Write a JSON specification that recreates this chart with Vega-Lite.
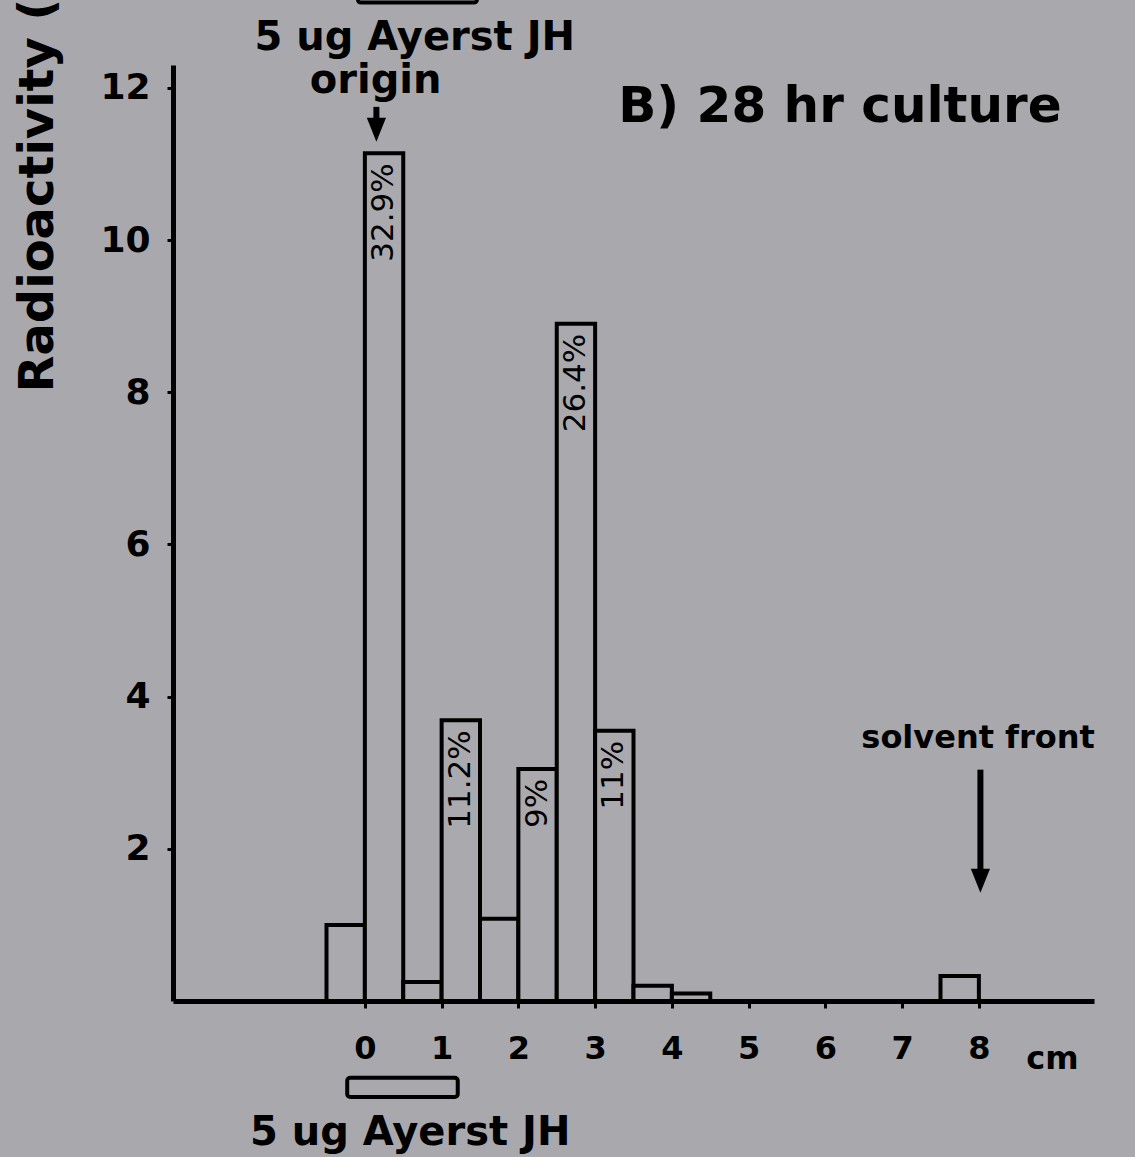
{
  "$schema": "https://vega.github.io/schema/vega-lite/v6.json",
  "width": 921,
  "height": 936,
  "autosize": {"type": "none"},
  "padding": {"left": 173, "top": 65, "right": 41, "bottom": 156},
  "background": "#a9a9ad",
  "config": {
    "view": {"stroke": null},
    "font": "DejaVu Sans",
    "axis": {
      "grid": false,
      "zindex": 1,
      "format": "d",
      "domainColor": "black",
      "domainWidth": 5,
      "tickColor": "black",
      "tickWidth": 3,
      "labelFont": "DejaVu Sans",
      "labelFontWeight": "bold",
      "labelColor": "black",
      "labelFlush": false,
      "labelOverlap": false,
      "titleFont": "DejaVu Sans",
      "titleFontWeight": "bold",
      "titleColor": "black"
    },
    "axisX": {"tickSize": 7, "labelFontSize": 32, "labelPadding": 25, "titleFontSize": 32},
    "axisY": {"tickSize": 6, "labelFontSize": 36, "labelPadding": 17, "titleFontSize": 48}
  },
  "datasets": {
    "fractions": [
      {"lo": -0.5, "hi": 0, "mid": -0.25, "activity": 1.0},
      {"lo": 0, "hi": 0.5, "mid": 0.25, "activity": 11.14, "pct": "32.9%"},
      {"lo": 0.5, "hi": 1, "mid": 0.75, "activity": 0.25},
      {"lo": 1, "hi": 1.5, "mid": 1.25, "activity": 3.69, "pct": "11.2%"},
      {"lo": 1.5, "hi": 2, "mid": 1.75, "activity": 1.08},
      {"lo": 2, "hi": 2.5, "mid": 2.25, "activity": 3.05, "pct": "9%"},
      {"lo": 2.5, "hi": 3, "mid": 2.75, "activity": 8.9, "pct": "26.4%"},
      {"lo": 3, "hi": 3.5, "mid": 3.25, "activity": 3.55, "pct": "11%"},
      {"lo": 3.5, "hi": 4, "mid": 3.75, "activity": 0.2},
      {"lo": 4, "hi": 4.5, "mid": 4.25, "activity": 0.1},
      {"lo": 7.5, "hi": 8, "mid": 7.75, "activity": 0.33}
    ],
    "arrows": [
      {"at": 0.15, "tail": 11.75, "head": 11.45},
      {"at": 8.02, "tail": 3.04, "head": 1.58}
    ],
    "bands": [
      {"x1": -0.23, "x2": 1.21, "y1": -1.01, "y2": -1.26},
      {"x1": -0.09, "x2": 1.46, "y1": 13.12, "y2": 14.2}
    ]
  },
  "layer": [
    {
      "data": {"name": "fractions"},
      "mark": {"type": "rect", "fill": "#aaaaae", "stroke": "black", "strokeWidth": 4},
      "encoding": {
        "x": {
          "field": "lo",
          "type": "quantitative",
          "scale": {"domain": [-2.5, 9.5], "nice": false, "zero": false},
          "axis": {
            "title": "cm",
            "format": "d",
            "values": [0, 1, 2, 3, 4, 5, 6, 7, 8],
            "titleX": 879,
            "titleY": 67,
            "titleAlign": "center",
            "titleBaseline": "alphabetic"
          }
        },
        "x2": {"field": "hi"},
        "y": {
          "field": "activity",
          "type": "quantitative",
          "scale": {"domain": [0, 12.3], "nice": false},
          "axis": {
            "title": "Radioactivity (",
            "format": "d",
            "values": [2, 4, 6, 8, 10, 12],
            "titleAngle": 270,
            "titleAlign": "right",
            "titleBaseline": "alphabetic",
            "titleX": -121,
            "titleY": -67
          }
        },
        "y2": {"datum": 0}
      }
    },
    {
      "data": {"name": "fractions"},
      "transform": [{"filter": "isValid(datum.pct)"}],
      "mark": {"type": "text", "angle": 270, "align": "right", "baseline": "middle", "dx": -10, "font": "DejaVu Sans", "fontSize": 31, "fill": "black"},
      "encoding": {
        "x": {"field": "mid", "type": "quantitative"},
        "y": {"field": "activity", "type": "quantitative"},
        "text": {"field": "pct"}
      }
    },
    {
      "data": {"name": "bands"},
      "mark": {"type": "rect", "filled": false, "stroke": "black", "strokeWidth": 4, "cornerRadius": 3},
      "encoding": {
        "x": {"field": "x1", "type": "quantitative"},
        "x2": {"field": "x2"},
        "y": {"field": "y1", "type": "quantitative"},
        "y2": {"field": "y2"}
      }
    },
    {
      "data": {"name": "arrows"},
      "mark": {"type": "rule", "strokeWidth": 6, "color": "black"},
      "encoding": {
        "x": {"field": "at", "type": "quantitative"},
        "y": {"field": "tail", "type": "quantitative"},
        "y2": {"field": "head"}
      }
    },
    {
      "data": {"name": "arrows"},
      "mark": {"type": "point", "shape": "M-0.8,-1L0.8,-1L0,1Z", "filled": true, "size": 576, "color": "black", "opacity": 1},
      "encoding": {
        "x": {"field": "at", "type": "quantitative"},
        "y": {"field": "head", "type": "quantitative"}
      }
    },
    {
      "data": {"values": [{"x": 6.19, "y": 11.55, "label": "B) 28 hr culture"}]},
      "mark": {"type": "text", "align": "center", "baseline": "alphabetic", "font": "DejaVu Sans", "fontWeight": "bold", "fontSize": 50, "fill": "black"},
      "encoding": {
        "x": {"field": "x", "type": "quantitative"},
        "y": {"field": "y", "type": "quantitative"},
        "text": {"field": "label"}
      }
    },
    {
      "data": {"values": [
        {"x": 0.65, "y": 12.5, "label": "5 ug Ayerst JH"},
        {"x": 0.14, "y": 11.93, "label": "origin"},
        {"x": 0.59, "y": -1.89, "label": "5 ug Ayerst JH"}
      ]},
      "mark": {"type": "text", "align": "center", "baseline": "alphabetic", "font": "DejaVu Sans", "fontWeight": "bold", "fontSize": 40, "fill": "black"},
      "encoding": {
        "x": {"field": "x", "type": "quantitative"},
        "y": {"field": "y", "type": "quantitative"},
        "text": {"field": "label"}
      }
    },
    {
      "data": {"values": [{"x": 7.99, "y": 3.32, "label": "solvent front"}]},
      "mark": {"type": "text", "align": "center", "baseline": "alphabetic", "font": "DejaVu Sans", "fontWeight": "bold", "fontSize": 32, "fill": "black"},
      "encoding": {
        "x": {"field": "x", "type": "quantitative"},
        "y": {"field": "y", "type": "quantitative"},
        "text": {"field": "label"}
      }
    }
  ]
}
